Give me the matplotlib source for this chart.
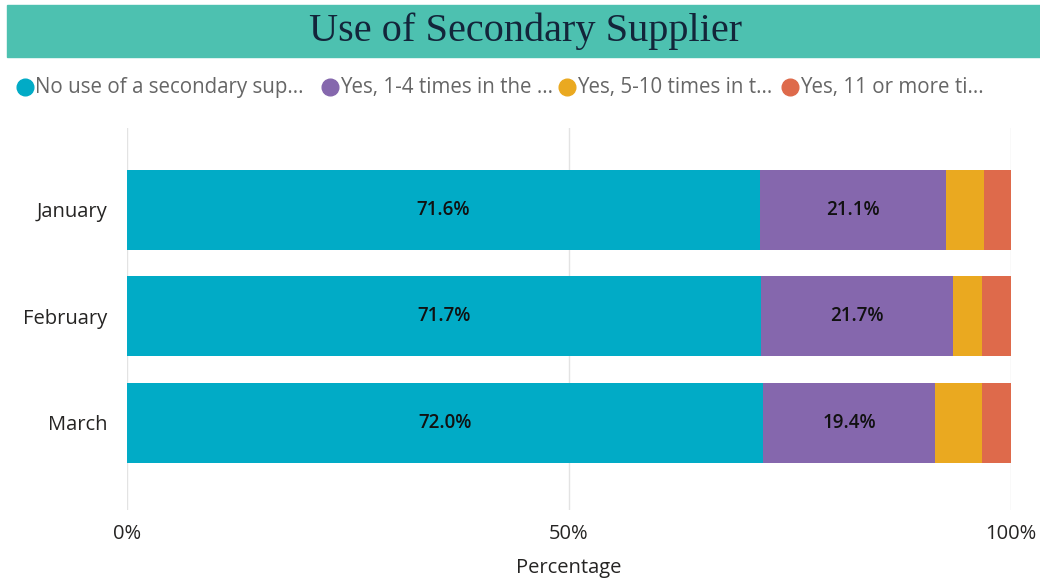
import matplotlib.pyplot as plt
from matplotlib.patches import Rectangle
from matplotlib.lines import Line2D

months = ["January", "February", "March"]
series_names = [
    "No use of a secondary sup...",
    "Yes, 1-4 times in the ...",
    "Yes, 5-10 times in t...",
    "Yes, 11 or more ti...",
]
no_use = [71.6, 71.7, 72.0]
yes_1_4 = [21.1, 21.7, 19.4]
yes_5_10 = [4.3, 3.3, 5.3]
yes_11_plus = [3.0, 3.3, 3.3]
colors = ["#01ABC6", "#8567AD", "#EAA920", "#DE6A4B"]

plt.rcParams["font.family"] = ["Open Sans", "DejaVu Sans"]

W, H = 1040, 588
fig = plt.figure(figsize=(W / 100, H / 100), dpi=100)

# title band
fig.patches.append(Rectangle((7 / W, 1 - 57 / H), 1 - 7 / W, 52 / H,
                             transform=fig.transFigure, color="#4DC1B0", zorder=0))
fig.text(526 / W, 1 - 31 / H, "Use of Secondary Supplier", ha="center", va="center",
         family="Liberation Serif", fontsize=29, color="#13253a")

ax = fig.add_axes([127 / W, 1 - 510 / H, 884 / W, 382 / H])
ypos = list(range(len(months)))
left = [0.0] * len(months)
for i, vals in enumerate([no_use, yes_1_4, yes_5_10, yes_11_plus]):
    bars = ax.barh(ypos, vals, left=left, height=0.75, color=colors[i], zorder=2)
    if i < 2:
        for b, v in zip(bars, vals):
            ax.text(b.get_x() + b.get_width() / 2, b.get_y() + b.get_height() / 2,
                    f"{v:.1f}%", ha="center", va="center", fontsize=13.5,
                    fontweight="semibold", color="#111111", zorder=3)
    left = [l + v for l, v in zip(left, vals)]

ax.set_xlim(0, 100)
ax.set_ylim(2.82, -0.77)
ax.set_yticks(ypos)
ax.set_yticklabels(months)
ax.set_xticks([0, 50, 100])
ax.set_xticklabels(["0%", "50%", "100%"])
ax.tick_params(length=0, labelsize=14.5, colors="#252423")
ax.tick_params(axis="y", pad=14)
ax.tick_params(axis="x", pad=10)
ax.grid(axis="x", color="#e3e3e3", linewidth=1, zorder=0)
for s in ax.spines.values():
    s.set_visible(False)
ax.set_xlabel("Percentage", fontsize=14.5, color="#252423", labelpad=10)

# legend laid out like the Power BI one (fixed slot per item)
legend_x = [25, 330, 567, 790]
legend_y = 1 - 87 / H
for x, name, c in zip(legend_x, series_names, colors):
    fig.add_artist(Line2D([x / W], [legend_y], marker="o", markersize=12, color=c,
                          linestyle="", transform=fig.transFigure))
    fig.text((x + 10) / W, legend_y, name, ha="left", va="center",
             fontsize=14.8, color="#666666")

fig.savefig("out.png", dpi=100, facecolor="white")
